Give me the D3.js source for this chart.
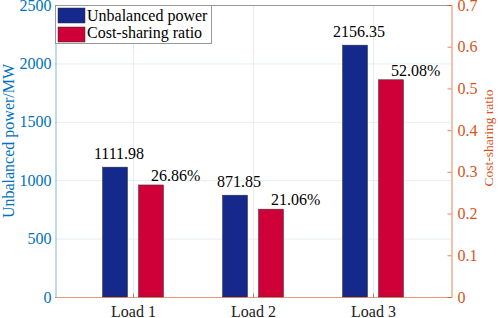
<!DOCTYPE html>
<html><head><meta charset="utf-8">
<script src="https://cdn.jsdelivr.net/npm/d3@7"></script>
<style>body{margin:0;background:#fff}svg{display:block}svg text{font-family:"Liberation Serif","Times New Roman",Tinos,"DejaVu Serif",serif !important}</style>
</head><body><svg id="c" width="498" height="318"></svg>
<script>
const categories = ["Load 1","Load 2","Load 3"];
const power = [1111.98, 871.85, 2156.35];
const ratio = [0.2686, 0.2106, 0.5208];
const powerLabels = ["1111.98","871.85","2156.35"];
const ratioLabels = ["26.86%","21.06%","52.08%"];
const leftTicks = [0,500,1000,1500,2000,2500];
const rightTicks = [0,0.1,0.2,0.3,0.4,0.5,0.6,0.7];
const seriesNames = ["Unbalanced power","Cost-sharing ratio"];

const L=55,R=451,T=5,B=297;
const blue="#0072BD", orange="#D95319", barBlue="#15298c", barRed="#cf0038";
const svg=d3.select("#c");
const x=d3.scaleLinear().domain([0.35,3.65]).range([L,R]);
const yl=d3.scaleLinear().domain([0,2500]).range([B,T]);
const yr=d3.scaleLinear().domain([0,0.7]).range([B,T]);

// grid
svg.append("g").selectAll("line").data(leftTicks.slice(1)).join("line")
 .attr("x1",L).attr("x2",R).attr("y1",d=>yl(d)+0.5).attr("y2",d=>yl(d)+0.5)
 .attr("stroke","#e3eef8").attr("stroke-width",1);
svg.append("g").selectAll("line").data(categories).join("line")
 .attr("x1",(d,i)=>x(i+1)+0.5).attr("x2",(d,i)=>x(i+1)+0.5).attr("y1",T).attr("y2",B)
 .attr("stroke","#e8ecef").attr("stroke-width",1);

const bw=25, off=18;
svg.append("g").selectAll("rect").data(power).join("rect")
 .attr("x",(d,i)=>x(i+1)-off-bw/2).attr("width",bw)
 .attr("y",d=>yl(d)).attr("height",d=>B-yl(d)).attr("fill",barBlue).attr("stroke","#333").attr("stroke-width",0.5);
svg.append("g").selectAll("rect").data(ratio).join("rect")
 .attr("x",(d,i)=>x(i+1)+off-bw/2).attr("width",bw)
 .attr("y",d=>yr(d)).attr("height",d=>B-yr(d)).attr("fill",barRed).attr("stroke","#333").attr("stroke-width",0.5);

// value labels
svg.append("g").selectAll("text").data(power).join("text")
 .attr("x",(d,i)=>x(i+1)-off+4).attr("y",d=>yl(d)-8).attr("text-anchor","middle")
 .attr("font-size",16).attr("fill","#000").text((d,i)=>powerLabels[i]);
svg.append("g").selectAll("text").data(ratio).join("text")
 .attr("x",(d,i)=>x(i+1)+off).attr("y",d=>yr(d)-4).attr("text-anchor","start")
 .attr("font-size",16).attr("fill","#000").text((d,i)=>ratioLabels[i]);

// frame
svg.append("line").attr("x1",L).attr("x2",R).attr("y1",T+0.5).attr("y2",T+0.5).attr("stroke","#999").attr("stroke-width",1);
svg.append("line").attr("x1",L).attr("x2",R).attr("y1",B+0.5).attr("y2",B+0.5).attr("stroke",orange).attr("stroke-opacity",0.6).attr("stroke-width",1);

// left axis
const gl=svg.append("g").attr("transform",`translate(${L+0.5},0)`)
 .call(d3.axisLeft(yl).tickValues(leftTicks).tickFormat(d3.format("d")).tickSize(0).tickPadding(4));
gl.select(".domain").attr("stroke",blue).attr("stroke-opacity",0.5);
gl.selectAll("text").attr("fill",blue).attr("font-size",16);
// right axis
const gr=svg.append("g").attr("transform",`translate(${R+0.5},0)`)
 .call(d3.axisRight(yr).tickValues(rightTicks).tickFormat(d=>d===0?"0":d3.format(".1f")(d)).tickSize(-4).tickPadding(6));
gr.select(".domain").attr("stroke",orange).attr("stroke-opacity",0.7);
gr.selectAll("line").attr("stroke",orange).attr("stroke-opacity",0.7);
gr.selectAll("text").attr("fill",orange).attr("font-size",16);
// x axis
const gx=svg.append("g").attr("transform",`translate(0,${B+0.5})`)
 .call(d3.axisBottom(x).tickValues([1,2,3]).tickFormat(d=>categories[d-1]).tickSize(-4).tickPadding(8));
gx.select(".domain").remove();
gx.selectAll("line").attr("stroke","#888");
gx.selectAll("text").attr("fill","#222").attr("font-size",16);

// axis titles
svg.append("text").attr("transform","translate(14,141) rotate(-90)").attr("text-anchor","middle")
 .attr("font-size",16).attr("fill",blue).text("Unbalanced power/MW");
svg.append("text").attr("transform","translate(493,138) rotate(-90)").attr("text-anchor","middle")
 .attr("font-size",13.5).attr("fill",orange).text("Cost-sharing ratio");

// legend
const lg=svg.append("g");
lg.append("rect").attr("x",L+0.5).attr("y",T+0.5).attr("width",156).attr("height",38).attr("fill","#fff").attr("stroke","#999");
[barBlue,barRed].forEach((c,i)=>{
 lg.append("rect").attr("x",58).attr("y",8+i*19).attr("width",27).attr("height",15).attr("fill",c).attr("stroke","#333").attr("stroke-width",0.5);
 lg.append("text").attr("x",87).attr("y",21+i*17).attr("font-size",16).attr("fill","#000").text(seriesNames[i]);
});
</script></body></html>
